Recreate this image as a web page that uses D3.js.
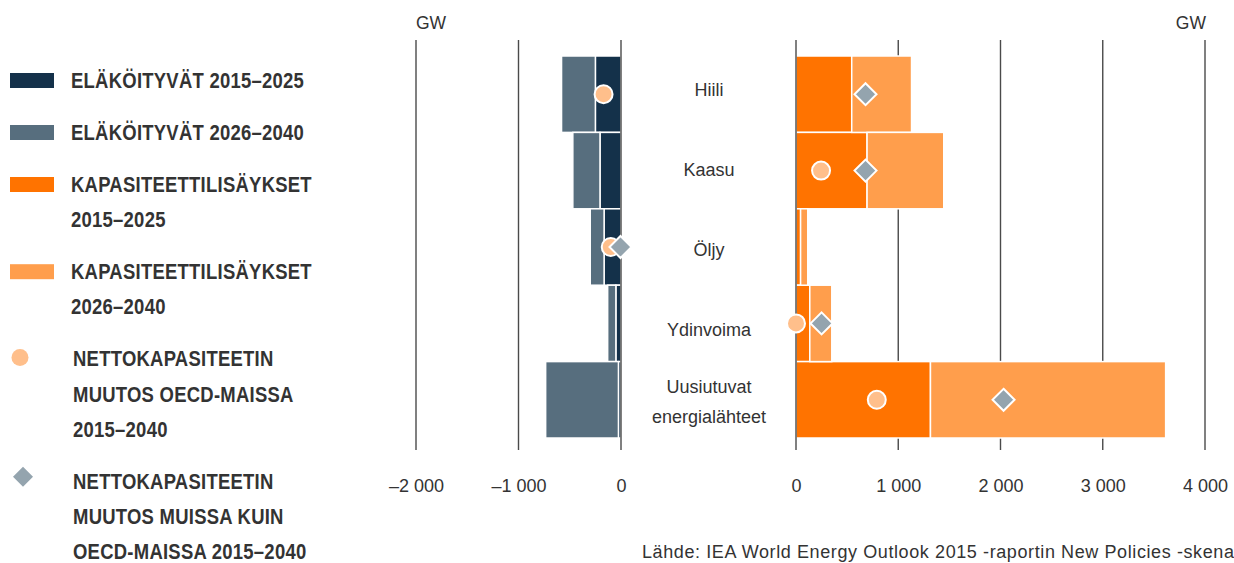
<!DOCTYPE html>
<html lang="fi">
<head>
<meta charset="utf-8">
<script src="https://cdn.jsdelivr.net/npm/d3@7"></script>
<style>
  html, body { margin: 0; padding: 0; background: #fff; }
  svg { display: block; font-family: "Liberation Sans", Arial, Helvetica, sans-serif; }
</style>
</head>
<body>
<svg id="chart" width="1234" height="563"></svg>
<script>
// Energy sources (category rows, top to bottom)
const categories = ["Hiili", "Kaasu", "Öljy", "Ydinvoima", "Uusiutuvat energialähteet"];
const categoryLabelLines = [["Hiili"], ["Kaasu"], ["Öljy"], ["Ydinvoima"], ["Uusiutuvat", "energialähteet"]];

// Retiring capacity, GW (drawn to the left of zero)
const retired2015_2025 = [250, 205, 165, 50, 25];
const retired2026_2040 = [330, 265, 135, 80, 710];

// Capacity additions, GW (drawn to the right of zero)
const added2015_2025 = [545, 695, 45, 135, 1315];
const added2026_2040 = [585, 750, 70, 215, 2300];

// Net capacity change 2015–2040, GW
const netOECD = [-170, 245, -100, 0, 790];
const netNonOECD = [680, 680, -5, 250, 2030];

// Axis ticks
const leftTicks = [-2000, -1000, 0];
const rightTicks = [0, 1000, 2000, 3000, 4000];

// Legend entries
const legendItems = [
  { kind: "rect", color: "#14314a", lines: ["ELÄKÖITYVÄT 2015–2025"] },
  { kind: "rect", color: "#576e7e", lines: ["ELÄKÖITYVÄT 2026–2040"] },
  { kind: "rect", color: "#ff7300", lines: ["KAPASITEETTILISÄYKSET", "2015–2025"] },
  { kind: "rect", color: "#ff9e4c", lines: ["KAPASITEETTILISÄYKSET", "2026–2040"] },
  { kind: "circle", color: "#ffbf8b", lines: ["NETTOKAPASITEETIN", "MUUTOS OECD-MAISSA", "2015–2040"] },
  { kind: "diamond", color: "#94a4ae", lines: ["NETTOKAPASITEETIN", "MUUTOS MUISSA KUIN", "OECD-MAISSA 2015–2040"] }
];
const sourceText = "Lähde: IEA World Energy Outlook 2015 -raportin New Policies -skenaariosta";

const colors = {
  ret1: "#14314a", ret2: "#576e7e",
  add1: "#ff7300", add2: "#ff9e4c",
  oecd: "#ffbf8b", nonOecd: "#94a4ae",
  text: "#333333", grid: "#4a4a4a"
};

const svg = d3.select("#chart");

// Scales
const y = d3.scaleBand().domain(categories).range([56, 438]).padding(0);
const xLeft = d3.scaleLinear().domain([-2000, 0]).range([416, 621]);
const xRight = d3.scaleLinear().domain([0, 4000]).range([796, 1205]);
const labelY = d3.scalePoint().domain(categories).range([96, 416]);

const gridTop = 40, gridBottom = 450;

const fmt = d3.formatLocale({ decimal: ",", thousands: " ", grouping: [3], currency: ["", " €"], minus: "–" }).format(",d");

// Gridlines (behind the bars)
const grid = svg.append("g");
grid.selectAll("line.l").data(leftTicks.filter(t => t !== 0)).join("line")
  .attr("x1", d => xLeft(d)).attr("x2", d => xLeft(d))
  .attr("y1", gridTop).attr("y2", gridBottom)
  .attr("stroke", colors.grid).attr("stroke-width", 1.4);
grid.selectAll("line.r").data(rightTicks.filter(t => t !== 0)).join("line")
  .attr("x1", d => xRight(d)).attr("x2", d => xRight(d))
  .attr("y1", gridTop).attr("y2", gridBottom)
  .attr("stroke", colors.grid).attr("stroke-width", 1.4);

// Row records
const rows = categories.map((c, i) => ({
  cat: c,
  r1: retired2015_2025[i], r2: retired2026_2040[i],
  a1: added2015_2025[i], a2: added2026_2040[i],
  oecd: netOECD[i], non: netNonOECD[i]
}));

const bars = svg.append("g").attr("stroke", "#fff").attr("stroke-width", 1.5);

// Retirements: stacked leftwards from zero
bars.selectAll("rect.ret1").data(rows).join("rect")
  .attr("x", d => xLeft(-d.r1)).attr("width", d => xLeft(0) - xLeft(-d.r1))
  .attr("y", d => y(d.cat)).attr("height", y.bandwidth())
  .attr("fill", colors.ret1);
bars.selectAll("rect.ret2").data(rows).join("rect")
  .attr("x", d => xLeft(-(d.r1 + d.r2))).attr("width", d => xLeft(-d.r1) - xLeft(-(d.r1 + d.r2)))
  .attr("y", d => y(d.cat)).attr("height", y.bandwidth())
  .attr("fill", colors.ret2);

// Additions: stacked rightwards from zero
bars.selectAll("rect.add1").data(rows).join("rect")
  .attr("x", xRight(0)).attr("width", d => xRight(d.a1) - xRight(0))
  .attr("y", d => y(d.cat)).attr("height", y.bandwidth())
  .attr("fill", colors.add1);
bars.selectAll("rect.add2").data(rows).join("rect")
  .attr("x", d => xRight(d.a1)).attr("width", d => xRight(d.a1 + d.a2) - xRight(d.a1))
  .attr("y", d => y(d.cat)).attr("height", y.bandwidth())
  .attr("fill", colors.add2);

// Zero lines
svg.append("line").attr("x1", xLeft(0)).attr("x2", xLeft(0))
  .attr("y1", gridTop).attr("y2", gridBottom).attr("stroke", colors.grid).attr("stroke-width", 1.4);
svg.append("line").attr("x1", xRight(0)).attr("x2", xRight(0))
  .attr("y1", gridTop).attr("y2", gridBottom).attr("stroke", colors.grid).attr("stroke-width", 1.4);

// Net change markers: negative values sit on the left panel, others on the right
const xNet = v => v < 0 ? xLeft(v) : xRight(v);
const cy = d => y(d.cat) + y.bandwidth() / 2;
const marks = svg.append("g");
marks.selectAll("circle").data(rows).join("circle")
  .attr("cx", d => xNet(d.oecd)).attr("cy", cy).attr("r", 9)
  .attr("fill", colors.oecd).attr("stroke", "#fff").attr("stroke-width", 2);
const diamond = r => `M0,${-r}L${r},0L0,${r}L${-r},0Z`;
marks.selectAll("path").data(rows).join("path")
  .attr("d", diamond(11))
  .attr("transform", d => `translate(${xNet(d.non)},${cy(d)})`)
  .attr("fill", colors.nonOecd).attr("stroke", "#fff").attr("stroke-width", 2);

// Category labels between the panels
const midX = (xLeft(0) + xRight(0)) / 2 + 0.5;
const catText = svg.append("g").attr("fill", colors.text).attr("font-size", 18).attr("text-anchor", "middle");
catText.selectAll("text").data(categories).join("text")
  .attr("x", midX)
  .attr("y", d => labelY(d))
  .each(function (d, i) {
    const lines = categoryLabelLines[i];
    const t = d3.select(this);
    lines.forEach((ln, k) => {
      t.append("tspan").attr("x", midX)
        .attr("y", labelY(d) - (lines.length - 1) * 23 + k * 30)
        .text(ln);
    });
  });

// Unit labels
svg.append("text").attr("x", xLeft(-2000)).attr("y", 29).attr("font-size", 17.5)
  .attr("fill", colors.text).text("GW");
svg.append("text").attr("x", xRight(4000) + 1).attr("y", 29).attr("font-size", 17.5)
  .attr("text-anchor", "end").attr("fill", colors.text).text("GW");

// Tick labels
function styleAxis(g) {
  g.select(".domain").remove();
  g.selectAll(".tick line").remove();
  g.selectAll(".tick text").attr("fill", colors.text).attr("font-size", 18)
    .attr("font-family", "\"Liberation Sans\", Arial, sans-serif");
}
svg.append("g").attr("transform", "translate(0,478.8)")
  .call(d3.axisBottom(xLeft).tickValues(leftTicks).tickFormat(fmt).tickSize(0).tickPadding(0))
  .call(styleAxis);
svg.append("g").attr("transform", "translate(0,478.8)")
  .call(d3.axisBottom(xRight).tickValues(rightTicks).tickFormat(fmt).tickSize(0).tickPadding(0))
  .call(styleAxis);

// Legend
const legend = svg.append("g");
let baseline = 88;
legendItems.forEach(item => {
  const g = legend.append("g");
  if (item.kind === "rect") {
    g.append("rect").attr("x", 10).attr("y", baseline - 15).attr("width", 44).attr("height", 15)
      .attr("fill", item.color);
  } else if (item.kind === "circle") {
    g.append("circle").attr("cx", 20).attr("cy", baseline - 9).attr("r", 8.5).attr("fill", item.color);
  } else {
    g.append("path").attr("d", diamond(10)).attr("transform", `translate(23,${baseline - 12})`)
      .attr("fill", item.color);
  }
  const tx = item.kind === "rect" ? 71 : 73;
  const tg = g.append("g").attr("transform", `translate(${tx},0) scale(0.84,1)`);
  item.lines.forEach((ln, k) => {
    tg.append("text").attr("x", 0).attr("y", baseline + k * 35.2)
      .attr("font-size", 22).attr("font-weight", "bold").attr("fill", colors.text)
      .attr("letter-spacing", 0.3).text(ln);
  });
  baseline += (item.lines.length - 1) * 35.2 + 52;
});

// Source line
svg.append("text").attr("x", 642).attr("y", 558).attr("font-size", 18)
  .attr("letter-spacing", 0.6)
  .attr("fill", colors.text).text(sourceText);
</script>
</body>
</html>
